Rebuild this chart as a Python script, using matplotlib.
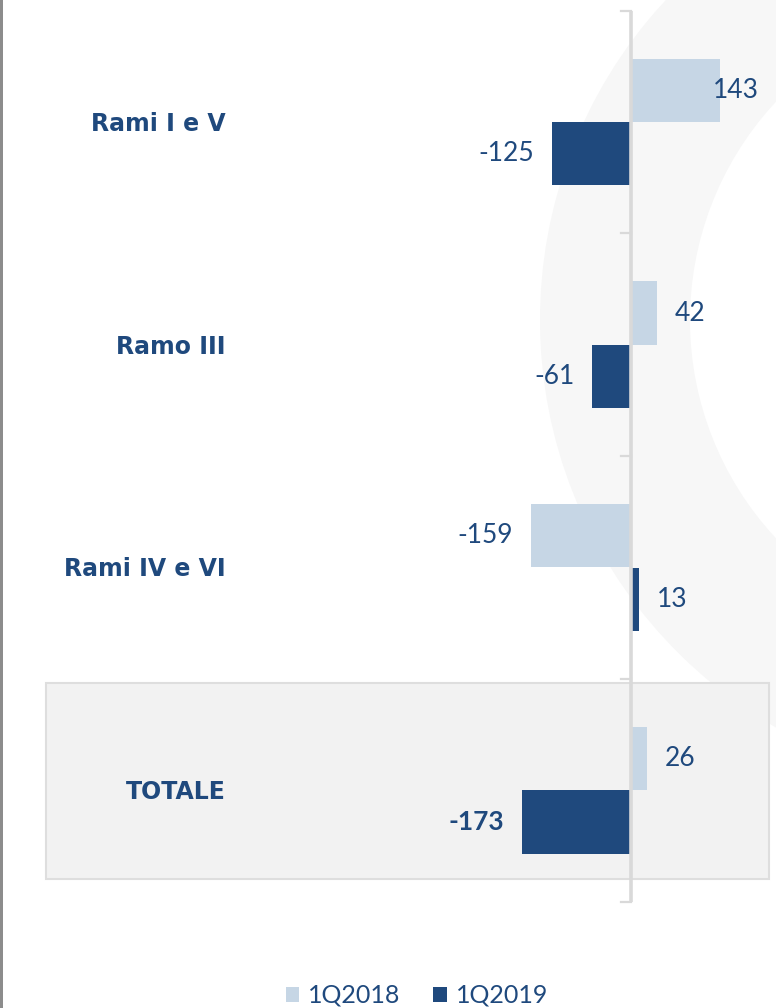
import matplotlib
matplotlib.use("Agg")
import matplotlib.pyplot as plt
from matplotlib.patches import Rectangle, Wedge, Patch
from matplotlib.transforms import Affine2D

categories = ["Rami I e V", "Ramo III", "Rami IV e VI", "TOTALE"]
series_names = ["1Q2018", "1Q2019"]
values_2018 = [143, 42, -159, 26]
values_2019 = [-125, -61, 13, -173]

C_LIGHT = "#c6d6e5"
C_DARK = "#1f497d"
C_TEXT = "#1f497d"
C_AXIS = "#d9d9d9"

W, H = 776, 1008
fig = plt.figure(figsize=(W / 100, H / 100), dpi=100)
fig.patch.set_facecolor("white")

# pixel -> figure transform (origin top-left)
pix = Affine2D().scale(1 / W, -1 / H).translate(0, 1) + fig.transFigure

# faint watermark swoosh
fig.patches.append(Wedge((1010, 320), 470, 92, 262, width=150, transform=pix,
                         facecolor="#f7f7f7", edgecolor="none", zorder=0))

# left border line
fig.patches.append(Rectangle((0, 0), 2.5, H, transform=pix, facecolor="#8c8c8c",
                             edgecolor="none", zorder=1))

# highlighted TOTALE box
fig.patches.append(Rectangle((46, 683), 723, 196, transform=pix, facecolor="#f2f2f2",
                             edgecolor="#dedede", linewidth=1.5, zorder=1))

ax = fig.add_axes([0, 0, 1, 1])
ax.set_facecolor("none")
ax.set_zorder(2)

PX_PER_UNIT = 0.625
ZERO_PX = 630.5
ax.set_xlim(-ZERO_PX / PX_PER_UNIT, (W - ZERO_PX) / PX_PER_UNIT)
ROW = 222.75
ax.set_ylim((H - 122) / ROW, -122 / ROW)
ax.axis("off")

ypos = list(range(len(categories)))
bh = 0.285
ax.barh([y - bh / 2 for y in ypos], values_2018, height=bh, color=C_LIGHT,
        edgecolor="none", zorder=3)
ax.barh([y + bh / 2 for y in ypos], values_2019, height=bh, color=C_DARK,
        edgecolor="none", zorder=3)

# vertical axis with ticks
ax.plot([0, 0], [-0.5, len(categories) - 0.5], color=C_AXIS, lw=2.6, zorder=4,
        solid_capstyle="butt")
tick_len = 10 / PX_PER_UNIT
for b in [i - 0.5 for i in range(len(categories) + 1)]:
    ax.plot([-tick_len, 0], [b, b], color=C_AXIS, lw=1.6, zorder=4)

# category labels
for y, c in zip(ypos, categories):
    ax.text((226 - ZERO_PX) / PX_PER_UNIT, y + 0.008, c, ha="right", va="center",
            fontsize=17, fontweight="bold", color=C_TEXT,
            family="DejaVu Sans", zorder=5)

gap = 18 / PX_PER_UNIT
xmax_label = (759 - ZERO_PX) / PX_PER_UNIT
num_font = ["Lato", "DejaVu Sans"]


def label(v, y, bold=False):
    if v >= 0:
        x = v + gap
        ha = "left"
        if x + 45 / PX_PER_UNIT > xmax_label:
            x, ha = xmax_label, "right"
    else:
        x = v - gap
        ha = "right"
    ax.text(x, y, f"{v}", ha=ha, va="center", fontsize=19, color=C_TEXT,
            family=num_font, fontweight="bold" if bold else "normal", zorder=5)


for i, (a, b) in enumerate(zip(values_2018, values_2019)):
    last = i == len(categories) - 1
    label(a, i - bh / 2)
    label(b, i + bh / 2, bold=last)

handles = [Patch(facecolor=C_LIGHT, edgecolor="none"),
           Patch(facecolor=C_DARK, edgecolor="none")]
leg = fig.legend(handles, series_names, loc="center", bbox_to_anchor=(0.537, 0.0125),
                 ncol=2, frameon=False, handlelength=0.55, handleheight=0.55,
                 handletextpad=0.35, columnspacing=1.3,
                 prop={"family": num_font, "size": 18})
for t in leg.get_texts():
    t.set_color(C_TEXT)

fig.savefig("out.png", dpi=100)
